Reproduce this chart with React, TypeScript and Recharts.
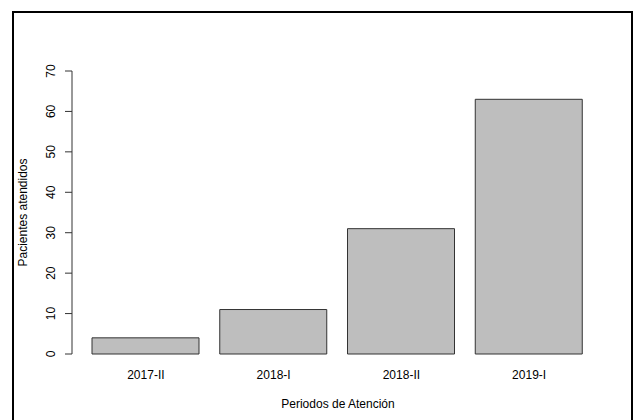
import React from 'react'
import { BarChart, Bar, XAxis, YAxis, Label } from 'recharts'

const periodos: string[] = ['2017-II', '2018-I', '2018-II', '2019-I']
const pacientes: number[] = [4, 11, 31, 63]
const yTicks: number[] = [0, 10, 20, 30, 40, 50, 60, 70]

const data = periodos.map((p, i) => ({ periodo: p, pacientes: pacientes[i] }))

const FONT = '"Liberation Sans", Arial, sans-serif'

// y labels in R are parallel to the axis
const YTick = (props: any) => {
  const { x, y, payload } = props
  return (
    <text
      x={x}
      y={y}
      transform={`rotate(-90, ${x}, ${y})`}
      textAnchor="middle"
      fontSize={12}
      fontFamily={FONT}
      fill="#000"
    >
      {payload.value}
    </text>
  )
}

const YTitle = (props: any) => {
  const vb = props.viewBox
  const x = vb.x + 27
  const y = vb.y + vb.height / 2
  return (
    <text
      x={x}
      y={y}
      transform={`rotate(-90, ${x}, ${y})`}
      textAnchor="middle"
      fontSize={12}
      fontFamily={FONT}
      fill="#000"
    >
      Pacientes atendidos
    </text>
  )
}

export default function App() {
  return (
    <div
      style={{
        position: 'fixed',
        top: 0,
        left: 0,
        width: 634,
        height: 420,
        overflow: 'hidden',
        background: '#fff',
      }}
    >
      <div
        style={{
          position: 'absolute',
          left: 12,
          top: 11,
          width: 617,
          height: 430,
          border: '2px solid #000',
        }}
      />
      <div style={{ position: 'absolute', left: 0, top: 0 }}>
        <BarChart
          width={634}
          height={420}
          data={data}
          margin={{ top: 71, right: 30, bottom: 36, left: 0 }}
        >
          <XAxis
            dataKey="periodo"
            axisLine={false}
            tickLine={false}
            tickSize={0}
            tickMargin={16}
            height={30}
            padding={{ left: 10, right: 11 }}
            interval={0}
            tick={{ fontSize: 12, fill: '#000', fontFamily: FONT }}
          >
            <Label
              value="Periodos de Atención"
              position="bottom"
              offset={15}
              style={{ fontSize: 12, fill: '#000', fontFamily: FONT }}
            />
          </XAxis>
          <YAxis
            width={72}
            domain={[0, 70]}
            ticks={yTicks}
            interval={0}
            tickSize={7}
            tickMargin={10}
            axisLine={{ stroke: '#333' }}
            tickLine={{ stroke: '#333' }}
            tick={<YTick />}
          >
            <Label content={<YTitle />} />
          </YAxis>
          <Bar
            dataKey="pacientes"
            fill="#bebebe"
            stroke="#333"
            strokeWidth={1}
            barSize={107}
            isAnimationActive={false}
          />
        </BarChart>
      </div>
    </div>
  )
}
